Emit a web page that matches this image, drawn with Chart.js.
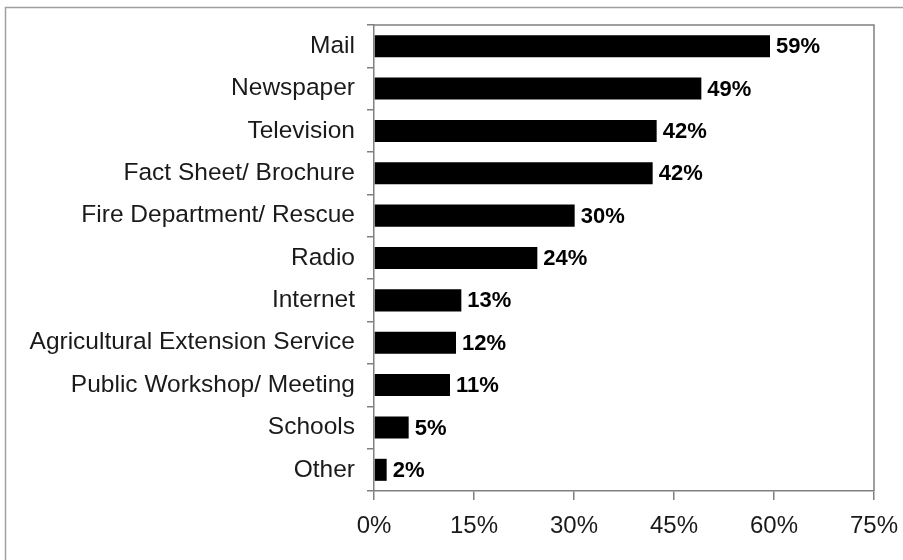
<!DOCTYPE html>
<html>
<head>
<meta charset="utf-8">
<script src="https://cdn.jsdelivr.net/npm/chart.js@4.4.1/dist/chart.umd.min.js"></script>
<style>
  html, body { margin: 0; padding: 0; background: #fff; }
  #wrap { width: 903px; height: 560px; position: relative; }
</style>
</head>
<body>
<div id="wrap"><canvas id="c" width="903" height="560"></canvas></div>
<script>
const categories = ["Mail", "Newspaper", "Television", "Fact Sheet/ Brochure", "Fire Department/ Rescue", "Radio", "Internet", "Agricultural Extension Service", "Public Workshop/ Meeting", "Schools", "Other"];
const values = [59.4, 49.1, 42.4, 41.8, 30.1, 24.5, 13.1, 12.3, 11.4, 5.2, 1.9];
const valueLabels = ["59%", "49%", "42%", "42%", "30%", "24%", "13%", "12%", "11%", "5%", "2%"];
const xTicks = [0, 15, 30, 45, 60, 75];

const FONT = "'Liberation Sans', Arial, sans-serif";
const AXIS_GRAY = "#808080";

const framePlugin = {
  id: 'frame',
  beforeDraw(chart) {
    const ctx = chart.ctx;
    ctx.save();
    ctx.fillStyle = '#fff';
    ctx.fillRect(0, 0, chart.width, chart.height);
    ctx.strokeStyle = '#a0a0a0';
    ctx.lineWidth = 1.5;
    ctx.beginPath();
    ctx.moveTo(5.5, chart.height + 5);
    ctx.lineTo(5.5, 7.5);
    ctx.lineTo(chart.width + 5, 7.5);
    ctx.stroke();
    ctx.restore();
  },
  afterDraw(chart) {
    const a = chart.chartArea;
    const ctx = chart.ctx;
    ctx.save();
    ctx.strokeStyle = AXIS_GRAY;
    ctx.lineWidth = 1.5;
    ctx.beginPath();
    ctx.moveTo(a.left, a.top);
    ctx.lineTo(a.right, a.top);
    ctx.lineTo(a.right, a.bottom);
    ctx.stroke();
    ctx.restore();
  }
};

const labelPlugin = {
  id: 'valueLabels',
  afterDatasetsDraw(chart) {
    const ctx = chart.ctx;
    const meta = chart.getDatasetMeta(0);
    ctx.save();
    ctx.fillStyle = '#000';
    ctx.font = 'bold 22px ' + FONT;
    ctx.textAlign = 'left';
    ctx.textBaseline = 'middle';
    meta.data.forEach((bar, i) => {
      ctx.fillText(valueLabels[i], bar.x + 6, bar.y + 1);
    });
    ctx.restore();
  }
};

new Chart(document.getElementById('c'), {
  type: 'bar',
  data: {
    labels: categories,
    datasets: [{
      data: values,
      backgroundColor: '#000',
      borderWidth: 0,
      categoryPercentage: 1.0,
      barPercentage: 0.52
    }]
  },
  options: {
    indexAxis: 'y',
    responsive: false,
    animation: false,
    layout: { padding: { left: 0, top: 25, right: 29, bottom: 0 } },
    plugins: {
      legend: { display: false },
      tooltip: { enabled: false }
    },
    scales: {
      x: {
        min: 0,
        max: 75,
        afterBuildTicks(scale) { scale.ticks = xTicks.map(v => ({ value: v })); },
        afterFit(scale) { scale.height = 69; scale.paddingRight = 0; scale.paddingLeft = 0; },
        border: { color: AXIS_GRAY, width: 1.5 },
        grid: { display: true, drawOnChartArea: false, drawTicks: true, tickLength: 9, color: AXIS_GRAY, lineWidth: 1.5 },
        ticks: {
          callback: v => v + '%',
          color: '#1a1a1a',
          font: { family: FONT, size: 24 },
          padding: 12,
          maxRotation: 0
        }
      },
      y: {
        afterFit(scale) { scale.width = 374; scale.paddingTop = 0; scale.paddingBottom = 0; },
        border: { color: AXIS_GRAY, width: 1.5 },
        grid: { display: true, offset: true, drawOnChartArea: false, drawTicks: true, tickLength: 7, color: AXIS_GRAY, lineWidth: 1.5 },
        ticks: {
          color: '#1a1a1a',
          font: { family: FONT, size: 24.5 },
          padding: 12,
          autoSkip: false
        }
      }
    }
  },
  plugins: [framePlugin, labelPlugin]
});
</script>
</body>
</html>
